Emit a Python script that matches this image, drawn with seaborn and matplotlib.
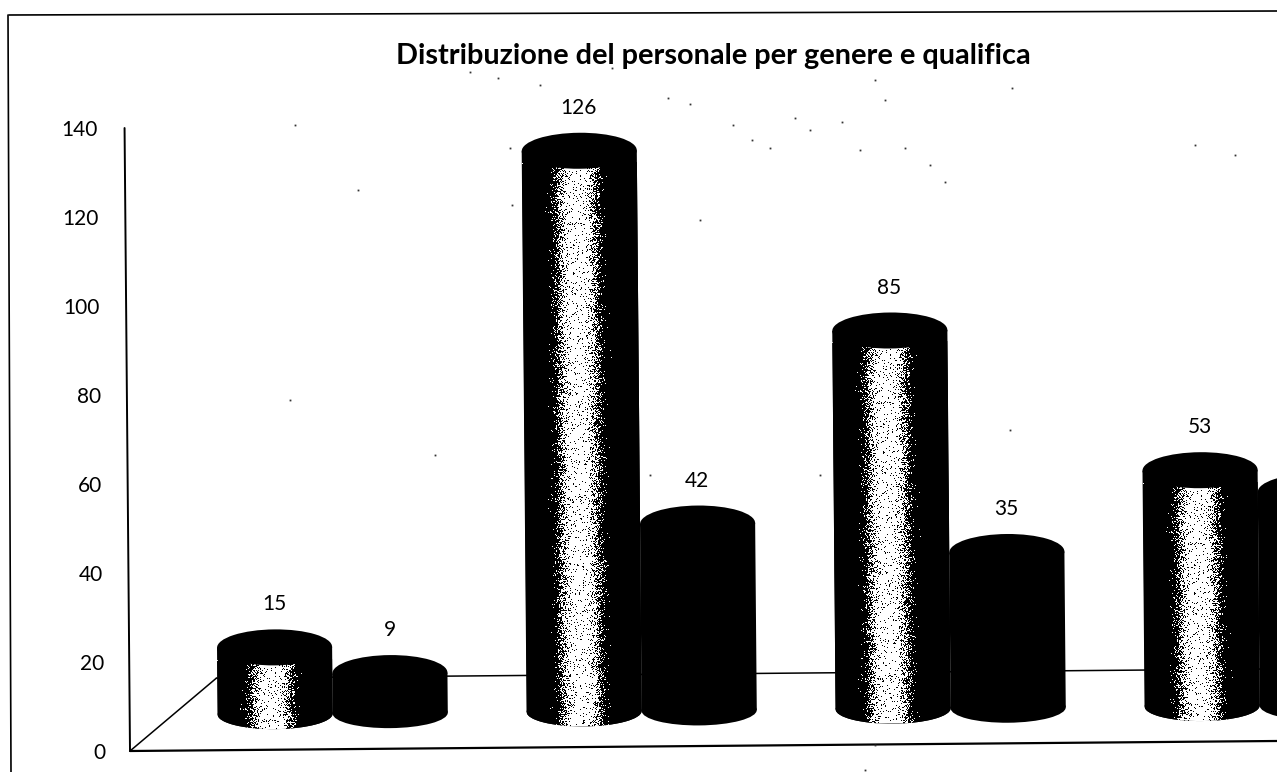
# -*- coding: utf-8 -*-
import numpy as np
import pandas as pd
import seaborn as sns
import matplotlib
matplotlib.use("Agg")
import matplotlib.pyplot as plt
from matplotlib.lines import Line2D
from matplotlib.patches import Ellipse
from matplotlib.path import Path
from matplotlib.transforms import Affine2D

# valori (l'ultimo cilindro scuro e' tagliato dalla scansione)
qualifiche = ["A", "B", "C", "D"]
uomini = [15, 126, 85, 53]
donne = [9, 42, 35, 48]
tick_values = [0, 20, 40, 60, 80, 100, 120, 140]
title_text = "Distribuzione del personale per genere e qualifica"

W, H = 1277, 772
BASE = 8.0          # i cilindri poggiano sul fondo del "pavimento" 3D
TILT = 0.5          # la scansione e' leggermente ruotata
PX_UNIT = 4.45      # pixel per unita' sull'asse y

# puntini di sporco della scansione (pixel immagine)
specks = [(470, 72), (498, 78), (540, 85), (612, 68), (668, 98), (690, 104), (733, 125),
          (752, 140), (770, 148), (795, 118), (810, 130), (842, 122), (860, 150), (905, 148),
          (930, 165), (945, 182), (885, 100), (875, 80), (295, 125), (358, 190), (512, 205),
          (435, 455), (1195, 145), (1235, 155), (1010, 430), (875, 745), (865, 770), (820, 475),
          (700, 220), (290, 400), (510, 148), (1012, 88), (650, 475)]

df = pd.DataFrame({
    "qualifica": qualifiche * 2,
    "genere": ["Uomini"] * len(uomini) + ["Donne"] * len(donne),
    "n": uomini + donne,
})

sns.set_style("white")
plt.rcParams["font.family"] = ["Lato", "DejaVu Sans"]

fig = plt.figure(figsize=(W / 100, H / 100), dpi=100, facecolor="white")
ax = fig.add_axes([130 / W, (H - 751) / H, (W - 130) / W, 623 / H])

sns.barplot(data=df, x="qualifica", y="n", hue="genere", hue_order=["Uomini", "Donne"],
            palette=["black", "black"], width=0.745, gap=0, legend=False, ax=ax,
            bottom=BASE, saturation=1, linewidth=0)

x_left, x_right = -0.657, 3.055
ax.set_xlim(x_left, x_right)
ax.set_ylim(0, 140)
ax.set_xlabel("")
ax.set_ylabel("")
ax.set_xticks([])
ax.set_yticks(tick_values)
ax.set_facecolor("none")
sns.despine(ax=ax, left=True, bottom=True)

# rotazione della scansione attorno all'origine del grafico
ox, oy = 130, H - 751
rot = Affine2D().rotate_deg_around(ox, oy, TILT)
chart = ax.transData + rot
tilt_rad = np.deg2rad(TILT)

ax.tick_params(axis="y", labelsize=15, colors="black", length=0)
for tick, v in zip(ax.yaxis.get_major_ticks(), tick_values):
    tick.tick1line.set_visible(False)
    tick.set_pad(18 + v * PX_UNIT * np.tan(tilt_rad))

# assi e pavimento 3D
depth_x = x_left + 87 / 309
depth_y = 16.2
ax.plot([x_left, x_left], [0, 140], color="black", lw=1.4, transform=chart, clip_on=False, zorder=1)
ax.plot([x_left, x_right + 0.1], [0, 0], color="black", lw=1.6, transform=chart, clip_on=False, zorder=1)
ax.plot([x_left, depth_x], [0, depth_y], color="black", lw=1.1, transform=chart, clip_on=False, zorder=1)
ax.plot([depth_x, x_right + 0.1], [depth_y, depth_y], color="black", lw=1.1, transform=chart, clip_on=False, zorder=1)


def halftone(nrows, ncols):
    """Retino chiaro al centro del cilindro, come nella fotocopia"""
    jj, ii = np.meshgrid(np.arange(ncols), np.arange(nrows))
    grain = (np.sin(ii * 12.9898 + jj * 78.233) * 43758.5453) % 1
    u = (jj + 0.5) / ncols
    light = 1.02 * np.exp(-((u - 0.47) / 0.17) ** 4)
    return (grain < light * 0.92).astype(float)


TOP_H = 36 / PX_UNIT
FOOT_H = 30 / PX_UNIT
n_bars = len(qualifiche)
bars = list(ax.patches)
for i, p in enumerate(bars):
    x0, w, top = p.get_x(), p.get_width(), p.get_y() + p.get_height()
    xc = x0 + w / 2
    p.set_transform(chart)
    p.set_clip_on(False)
    p.set_zorder(3)
    foot = Ellipse((xc, BASE), w, FOOT_H, color="black", lw=0, transform=chart, clip_on=False, zorder=3)
    ax.add_patch(foot)
    if i < n_bars:
        theta = np.linspace(np.pi, 2 * np.pi, 40)
        outline = np.column_stack([xc + w / 2 * np.cos(theta), BASE + FOOT_H / 2 * np.sin(theta)])
        outline = np.vstack([outline, [x0 + w, top], [x0, top], outline[0]])
        img_top = top - 12 / PX_UNIT
        nrows = int((img_top - BASE + FOOT_H / 2) * PX_UNIT)
        img = ax.imshow(halftone(nrows, 116), cmap="gray", vmin=0, vmax=1, aspect="auto",
                        extent=(x0, x0 + w, BASE - FOOT_H / 2, img_top),
                        interpolation="nearest", zorder=4)
        img.set_transform(chart)
        img.set_clip_path(Path(outline), chart)
    ax.add_patch(Ellipse((xc, top), w, TOP_H, color="black", lw=0, transform=chart, clip_on=False, zorder=5))
    value = (uomini + donne)[i]
    if xc < x_right:
        ax.text(xc, top + 43 / PX_UNIT, str(value), ha="center", va="center", fontsize=15,
                color="black", transform=chart, clip_on=False, zorder=6)

ax.set_xlim(x_left, x_right)
ax.set_ylim(0, 140)

fig.text(713 / W, 1 - 56 / H, title_text, ha="center", va="center", fontsize=20.8,
         fontweight="bold", color="black")

# cornice della scansione
fig.add_artist(Line2D([9 / W, 1], [1 - 15 / H, 1 - 11 / H], color="black", lw=1.2))
fig.add_artist(Line2D([8 / W, 11 / W], [1 - 15 / H, 0], color="black", lw=1.2))
for sx, sy in specks:
    fig.add_artist(Line2D([sx / W], [1 - sy / H], marker="s", ms=1.3, mew=0, color="#333333", ls=""))

fig.savefig("out.png", dpi=100, facecolor="white")
